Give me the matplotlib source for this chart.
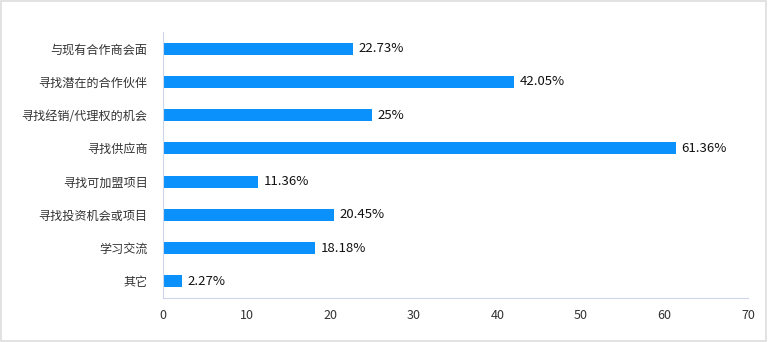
import matplotlib.pyplot as plt
from matplotlib.patches import Rectangle

plt.rcParams['font.family'] = ['Noto Sans CJK SC', 'DejaVu Sans']

categories = ['与现有合作商会面', '寻找潜在的合作伙伴', '寻找经销/代理权的机会', '寻找供应商',
              '寻找可加盟项目', '寻找投资机会或项目', '学习交流', '其它']
values = [22.73, 42.05, 25, 61.36, 11.36, 20.45, 18.18, 2.27]
value_labels = ['22.73%', '42.05%', '25%', '61.36%', '11.36%', '20.45%', '18.18%', '2.27%']
xticks = [0, 10, 20, 30, 40, 50, 60, 70]

bar_color = '#0a91fb'
axis_color = '#ccd6eb'

fig = plt.figure(figsize=(7.68, 3.42), dpi=100)
ax = fig.add_axes([0.2122, 0.1287, 0.7618, 0.7777])

ypos = list(range(len(categories)))
ax.barh(ypos, values, height=0.36, color=bar_color)
for y, v, lab in zip(ypos, values, value_labels):
    ax.annotate(lab, (v, y), xytext=(4, 0), textcoords='offset points',
                va='center', ha='left', fontsize=9.5, color='#111111')

ax.set_ylim(len(categories) - 0.5, -0.5)
ax.set_xlim(0, 70)
ax.set_yticks(ypos)
ax.set_yticklabels(categories, fontsize=8.7, color='#333333')
ax.set_xticks(xticks)
ax.set_xticklabels([str(t) for t in xticks], fontsize=9, color='#333333')
ax.tick_params(axis='y', length=0, pad=11)
ax.tick_params(axis='x', length=0, pad=8)

for side in ['top', 'right']:
    ax.spines[side].set_visible(False)
ax.spines['left'].set_color(axis_color)
ax.spines['bottom'].set_color(axis_color)

# outer frame around the whole figure
fig.patches.append(Rectangle((0.0015, 0.003), 0.996, 0.993, transform=fig.transFigure,
                             fill=False, edgecolor='#dddddd', linewidth=1.2))

fig.savefig('out.png', dpi=100)
